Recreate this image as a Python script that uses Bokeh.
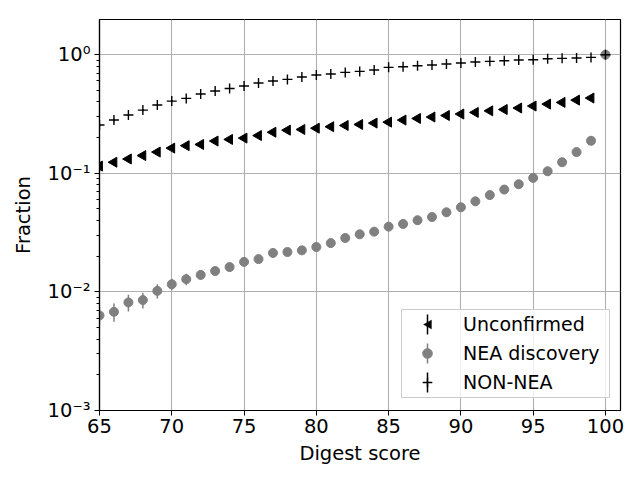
import numpy as np
from bokeh.plotting import figure
from bokeh.models import (ColumnDataSource, Legend, LegendItem, FixedTicker,
                          CustomJSTickFormatter, Range1d, BoxAnnotation, PolyAnnotation)
from bokeh.embed import file_html
from bokeh.resources import INLINE

# ---------------- data ----------------
scores = list(range(65, 100))          # 65 .. 99

unconfirmed = [0.115, 0.124, 0.132, 0.141, 0.151, 0.163, 0.171, 0.175, 0.187, 0.193,
               0.198, 0.208, 0.222, 0.231, 0.234, 0.240, 0.247, 0.253, 0.258, 0.265,
               0.270, 0.281, 0.290, 0.298, 0.307, 0.316, 0.326, 0.336, 0.345, 0.355,
               0.369, 0.383, 0.396, 0.414, 0.431]
unconfirmed_err = [0.007, 0.007, 0.007, 0.007, 0.007, 0.007, 0.007, 0.007, 0.007, 0.007,
                   0.007, 0.007, 0.007, 0.007, 0.007, 0.007, 0.007, 0.007, 0.007, 0.007,
                   0.007, 0.007, 0.007, 0.007, 0.007, 0.008, 0.008, 0.008, 0.008, 0.008,
                   0.008, 0.009, 0.009, 0.010, 0.011]

nea = [0.00633, 0.00679, 0.00815, 0.00853, 0.0102, 0.0116, 0.0128, 0.0139, 0.0150, 0.0162,
       0.0179, 0.0189, 0.0213, 0.0217, 0.0224, 0.0239, 0.0258, 0.0285, 0.0306, 0.0322,
       0.0355, 0.0374, 0.0402, 0.0428, 0.0469, 0.0517, 0.0580, 0.0655, 0.0729, 0.0809,
       0.0914, 0.104, 0.124, 0.151, 0.188]
nea_err = [0.0011, 0.0012, 0.0013, 0.0013, 0.0014, 0.0013, 0.0014, 0.0012, 0.0012, 0.0013,
           0.0013, 0.0014, 0.0014, 0.0014, 0.0015, 0.0015, 0.0016, 0.0017, 0.0017, 0.0018,
           0.0019, 0.0019, 0.0020, 0.0021, 0.0022, 0.0023, 0.0025, 0.0027, 0.0029, 0.0031,
           0.0034, 0.0037, 0.0042, 0.0049, 0.0058]

nonnea = [0.255, 0.281, 0.310, 0.341, 0.376, 0.406, 0.428, 0.466, 0.494, 0.519,
          0.544, 0.577, 0.600, 0.619, 0.648, 0.674, 0.687, 0.709, 0.723, 0.742,
          0.782, 0.792, 0.807, 0.818, 0.834, 0.851, 0.867, 0.879, 0.890, 0.902,
          0.907, 0.925, 0.931, 0.937, 0.949]
nonnea_err = [0.008] * 35

end_score = [100]
end_value = [1.0]

x_ticks = [65, 70, 75, 80, 85, 90, 95, 100]
labels = ["Unconfirmed", "NEA discovery", "NON-NEA"]
FONT = "DejaVu Sans"
FS = "19.5px"

# ---------------- figure ----------------
p = figure(width=640, height=480, output_backend="svg", toolbar_location=None,
           y_axis_type="log", x_range=Range1d(65, 101.04), y_range=Range1d(1e-3, 1.98),
           min_border_left=99, min_border_right=20, min_border_top=19, min_border_bottom=70)
p.background_fill_color = "white"
p.border_fill_color = "white"
p.outline_line_color = "black"
p.outline_line_width = 1.2

for ax in (p.xaxis, p.yaxis):
    ax.major_label_text_font = FONT
    ax.major_label_text_font_size = FS
    ax.major_label_text_color = "black"
    ax.axis_label_text_font = FONT
    ax.axis_label_text_font_size = FS
    ax.axis_label_text_font_style = "normal"
    ax.axis_label_text_color = "black"
    ax.axis_line_color = "black"
    ax.axis_line_width = 1.2
    ax.major_tick_in = 0
    ax.major_tick_out = 5
    ax.minor_tick_in = 0
    ax.minor_tick_out = 3
    ax.major_tick_line_color = "black"
    ax.minor_tick_line_color = "black"

p.xaxis.ticker = FixedTicker(ticks=x_ticks)
p.xaxis.minor_tick_line_color = None
p.xaxis.axis_label = "Digest score"
p.xaxis.major_label_standoff = 3
p.xaxis.axis_label_standoff = 6
p.yaxis.axis_label = "Fraction"
p.yaxis.major_label_standoff = 4
p.yaxis.axis_label_standoff = 10
p.yaxis.formatter = CustomJSTickFormatter(code="""
const sup = {"0":"\u2070","1":"\u00b9","2":"\u00b2","3":"\u00b3","4":"\u2074",
             "5":"\u2075","6":"\u2076","7":"\u2077","8":"\u2078","9":"\u2079","-":"\u207b"};
const e = Math.round(Math.log10(tick));
return "10" + String(e).split("").map(c => sup[c]).join("");
""")

p.xgrid.grid_line_color = "#b0b0b0"
p.ygrid.grid_line_color = "#b0b0b0"
p.xgrid.grid_line_width = 1.1
p.ygrid.grid_line_width = 1.1

def errsrc(xs, ys, es):
    ys = np.array(ys); es = np.array(es)
    return ColumnDataSource(dict(x=xs, y=list(ys), lo=list(ys - es), hi=list(ys + es)))

s_unc = errsrc(scores, unconfirmed, unconfirmed_err)
s_nea = errsrc(scores, nea, nea_err)
s_non = errsrc(scores, nonnea, nonnea_err)
s_end = ColumnDataSource(dict(x=end_score, y=end_value))

# Unconfirmed
p.segment(x0="x", y0="lo", x1="x", y1="hi", source=s_unc, line_color="black", line_width=1.5)
r_unc = p.scatter("x", "y", source=s_unc, marker="triangle", angle=np.pi / 2, size=10,
                  fill_color="black", line_color="black")
# NEA discovery
p.segment(x0="x", y0="lo", x1="x", y1="hi", source=s_nea, line_color="gray", line_width=1.5)
r_nea = p.scatter("x", "y", source=s_nea, marker="circle", size=9,
                  fill_color="gray", line_color="gray")
p.scatter("x", "y", source=s_end, marker="circle", size=9, fill_color="gray", line_color="gray")
# NON-NEA
p.segment(x0="x", y0="lo", x1="x", y1="hi", source=s_non, line_color="black", line_width=1.2)
r_non = p.scatter("x", "y", source=s_non, marker="cross", size=10, line_color="black", line_width=1.4)
p.scatter("x", "y", source=s_end, marker="cross", size=10, line_color="black", line_width=1.4)

# invisible stand-in for the left-pointing triangle (legend draws markers unrotated)
empty = ColumnDataSource(dict(x=[], y=[]))
r_blank = p.scatter("x", "y", source=empty, marker="circle", size=1,
                    fill_alpha=0, line_alpha=0)

# legend frame (semi-transparent white box, drawn before the key decorations)
p.add_layout(BoxAnnotation(left=401, right=609, top=309, bottom=397,
                           left_units="canvas", right_units="canvas",
                           top_units="canvas", bottom_units="canvas",
                           fill_color="white", fill_alpha=0.8,
                           line_color="#cccccc", line_width=1, line_alpha=1))

# legend key decorations: error bars and the left-pointing triangle (canvas pixels)
gx = 401 + 3 + 23          # legend left + padding + glyph_width/2
rows = [309 + 3 + 12, 309 + 3 + 12 + 29, 309 + 3 + 12 + 58]
for cy, col in zip(rows, ["black", "gray", "black"]):
    p.add_layout(BoxAnnotation(left=gx - 0.75, right=gx + 0.75, top=cy - 10, bottom=cy + 10,
                               left_units="canvas", right_units="canvas",
                               top_units="canvas", bottom_units="canvas",
                               fill_color=col, fill_alpha=1, line_color=None))
p.add_layout(PolyAnnotation(xs=[gx - 4, gx + 4, gx + 4], ys=[rows[0], rows[0] - 4.5, rows[0] + 4.5],
                            xs_units="canvas", ys_units="canvas",
                            fill_color="black", fill_alpha=1, line_color="black", line_width=1))

legend = Legend(items=[
    LegendItem(label=labels[0], renderers=[r_blank]),
    LegendItem(label=labels[1], renderers=[r_nea]),
    LegendItem(label=labels[2], renderers=[r_non]),
], location=(302, 13))
legend.label_text_font = FONT
legend.label_text_font_size = "19px"
legend.label_text_color = "black"
legend.border_line_color = "#cccccc"
legend.border_line_width = 1
legend.border_line_alpha = 0
legend.background_fill_color = "white"
legend.background_fill_alpha = 0
legend.padding = 3
legend.spacing = 5
legend.margin = 0
legend.label_height = 24
legend.glyph_height = 24
legend.glyph_width = 46
legend.label_standoff = 13
p.add_layout(legend)

open("out.html", "w").write(file_html(p, INLINE))
